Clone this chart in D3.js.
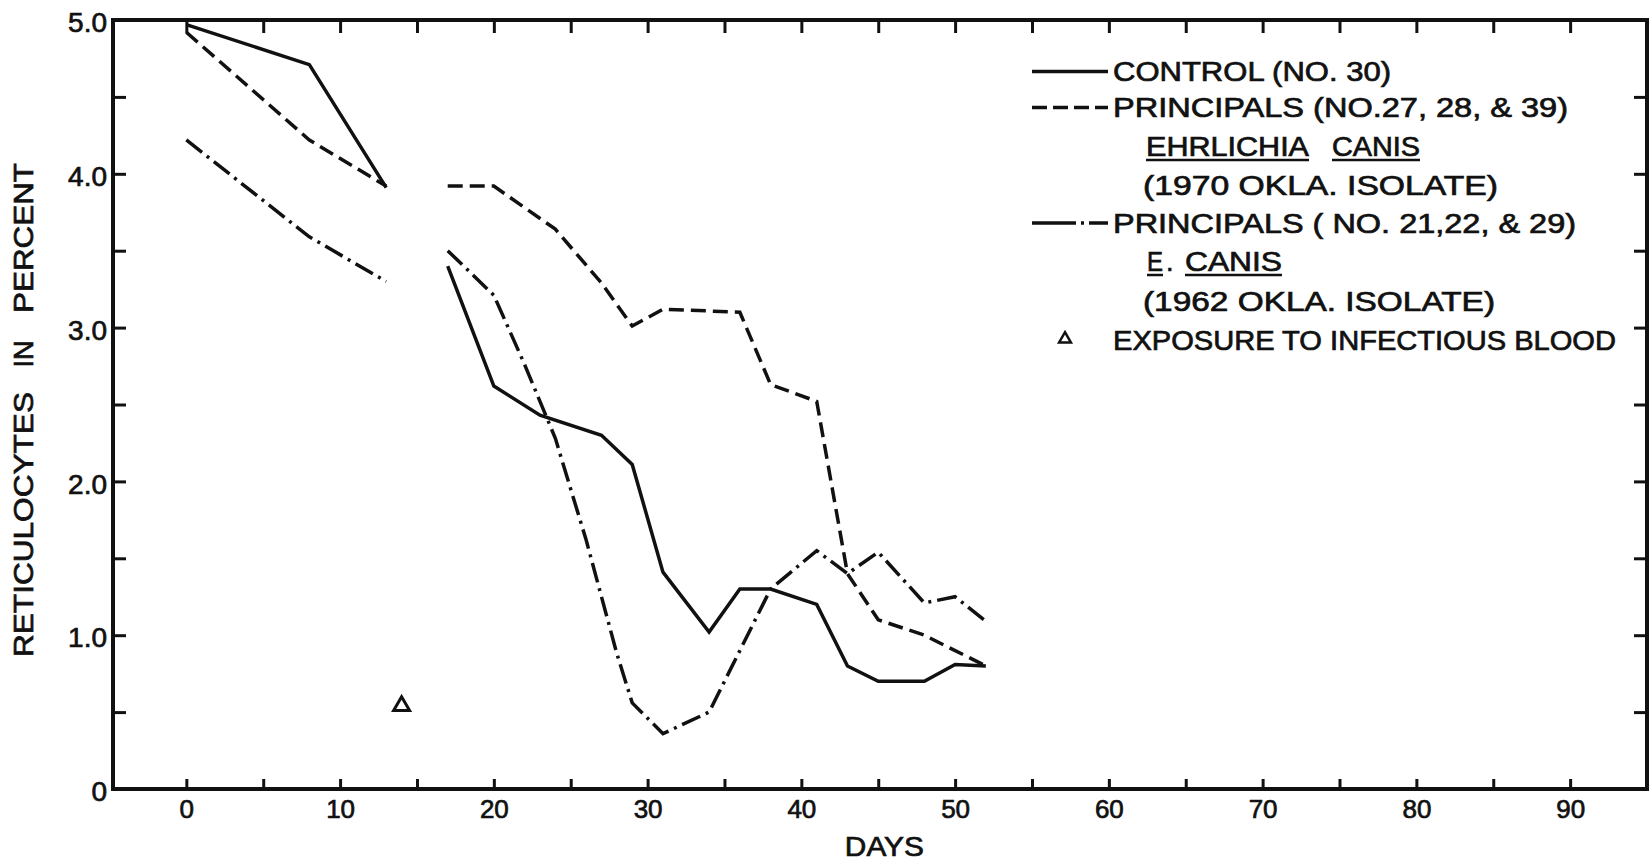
<!DOCTYPE html>
<html>
<head>
<meta charset="utf-8">
<script src="https://cdn.jsdelivr.net/npm/d3@7"></script>
<style>
  html, body { margin: 0; padding: 0; background: #fff; }
  svg { display: block; }
  text { font-family: "Liberation Sans", Arial, sans-serif; fill: #111; stroke: #111; stroke-width: 0.7px; }
</style>
</head>
<body>
<svg id="chart" width="1650" height="861"></svg>
<script>
// ---- data ----
const controlDays   = [0, 8, 13, 15, 17, 20, 23, 27, 29, 31, 34, 36, 38, 41, 43, 45, 48, 50, 52];
const controlValues = [4.97, 4.71, 3.91, null, 3.40, 2.62, 2.43, 2.30, 2.11, 1.41, 1.02, 1.30, 1.30, 1.20, 0.80, 0.70, 0.70, 0.81, 0.80];

const iso1970Days   = [0, 8, 13, 15, 17, 20, 24, 27, 29, 31, 36, 38, 41, 43, 45, 48, 52];
const iso1970Values = [4.92, 4.22, 3.92, null, 3.92, 3.92, 3.64, 3.29, 3.01, 3.12, 3.10, 2.63, 2.52, 1.40, 1.10, 1.00, 0.80];

const iso1962Days   = [0, 8, 13, 15, 17, 20, 22, 24, 26, 27, 28, 29, 31, 34, 38, 41, 43, 45, 48, 50, 52];
const iso1962Values = [4.22, 3.59, 3.30, null, 3.50, 3.21, 2.76, 2.28, 1.62, 1.25, 0.88, 0.56, 0.36, 0.50, 1.30, 1.55, 1.40, 1.54, 1.21, 1.25, 1.09];

const exposureDays   = [14];
const exposureValues = [0.54];

const xTickValues = [0, 5, 10, 15, 20, 25, 30, 35, 40, 45, 50, 55, 60, 65, 70, 75, 80, 85, 90];
const xTickLabels = ["0", "", "10", "", "20", "", "30", "", "40", "", "50", "", "60", "", "70", "", "80", "", "90"];
const yTickValues = [0, 0.5, 1, 1.5, 2, 2.5, 3, 3.5, 4, 4.5, 5];
const yTickLabels = ["0", "", "1.0", "", "2.0", "", "3.0", "", "4.0", "", "5.0"];

const xTitle = "DAYS";
const yTitleWords = ["RETICULOCYTES", "IN", "PERCENT"];

const legendControl = "CONTROL (NO. 30)";
const legend1970 = "PRINCIPALS (NO.27, 28, & 39)";
const legend1970Genus = "EHRLICHIA";
const legend1970Species = "CANIS";
const legend1970Isolate = "(1970 OKLA. ISOLATE)";
const legend1962 = "PRINCIPALS ( NO. 21,22, & 29)";
const legend1962Genus = "E";
const legend1962Species = "CANIS";
const legend1962Isolate = "(1962 OKLA. ISOLATE)";
const legendExposure = "EXPOSURE TO INFECTIOUS BLOOD";

// ---- layout ----
const svg = d3.select("#chart");
const L = 113, R = 1647, T = 20, B = 789;

const x = d3.scaleLinear().domain([-4.77, 95]).range([L, R]);
const y = d3.scaleLinear().domain([0, 5]).range([B, T]);

const ink = "#111";

// axes (ticks pointing inward)
const axBottom = svg.append("g").attr("transform", `translate(0,${B})`)
  .call(d3.axisBottom(x).tickValues(xTickValues).tickSizeInner(-10).tickSizeOuter(0)
    .tickPadding(11).tickFormat((d, i) => xTickLabels[i]));
const axTop = svg.append("g").attr("transform", `translate(0,${T})`)
  .call(d3.axisTop(x).tickValues(xTickValues).tickSizeInner(-13).tickSizeOuter(0).tickFormat(""));
const axLeft = svg.append("g").attr("transform", `translate(${L},0)`)
  .call(d3.axisLeft(y).tickValues(yTickValues).tickSizeInner(-13).tickSizeOuter(0)
    .tickPadding(6).tickFormat((d, i) => yTickLabels[i]));
const axRight = svg.append("g").attr("transform", `translate(${R},0)`)
  .call(d3.axisRight(y).tickValues(yTickValues).tickSizeInner(-13).tickSizeOuter(0).tickFormat(""));

[axBottom, axTop, axLeft, axRight].forEach(g => {
  g.select(".domain").remove();
  g.selectAll(".tick line").attr("stroke", ink).attr("stroke-width", 3);
  g.selectAll("text").attr("fill", ink).style("font-family", '"Liberation Sans", Arial, sans-serif');
});
axBottom.selectAll("text").style("font-size", "26px");
axLeft.selectAll("text").style("font-size", "28px").attr("dy", "0.42em");

// frame
svg.append("rect").attr("x", L).attr("y", T).attr("width", R - L).attr("height", B - T)
  .attr("fill", "none").attr("stroke", ink).attr("stroke-width", 4);

// axis titles
svg.append("text").attr("x", x(45.4)).attr("y", 856).attr("text-anchor", "middle")
  .style("font-size", "27px").attr("textLength", 79).attr("lengthAdjust", "spacingAndGlyphs")
  .text(xTitle);
// y title: three words placed along the left side (bottom to top)
const yWordSpans = [[392, 657], null, [163, 313]];
const yWordCentres = [null, 354, null];
yTitleWords.forEach((w, i) => {
  if (yWordSpans[i]) {
    const [a, b] = yWordSpans[i];
    svg.append("text").attr("transform", `translate(33,${b}) rotate(-90)`)
      .style("font-size", "27px")
      .attr("textLength", b - a).attr("lengthAdjust", "spacingAndGlyphs")
      .text(w);
  } else {
    svg.append("text").attr("transform", `translate(33,${yWordCentres[i]}) rotate(-90)`)
      .attr("text-anchor", "middle").style("font-size", "27px")
      .text(w);
  }
});

// series
const line = d3.line().defined(d => d[1] !== null).x(d => x(d[0])).y(d => y(d[1]));
function series(days, values, dash) {
  const pts = days.map((d, i) => [d, values[i]]);
  svg.append("path").datum(pts).attr("d", line)
    .attr("fill", "none").attr("stroke", ink).attr("stroke-width", 3.5)
    .attr("stroke-linejoin", "miter").attr("stroke-dasharray", dash);
}
const dashStyle = "15,7";
const dashDotStyle = "20,6,3,6";
series(controlDays, controlValues, null);
series(iso1970Days, iso1970Values, dashStyle);
series(iso1962Days, iso1962Values, dashDotStyle);

// exposure marker
svg.selectAll(".expo").data(exposureDays.map((d, i) => [d, exposureValues[i]])).enter()
  .append("path").attr("class", "expo")
  .attr("transform", d => `translate(${x(d[0])},${y(d[1])})`)
  .attr("d", d3.symbol(d3.symbolTriangle, 110))
  .attr("fill", "#fff").attr("stroke", ink).attr("stroke-width", 3);

// ---- legend ----
const fs = 27, capHalf = 9.6;
const lg = svg.append("g");
function ltext(str, x0, cy, width) {
  return lg.append("text").attr("x", x0).attr("y", cy + capHalf)
    .style("font-size", fs + "px").attr("textLength", width).attr("lengthAdjust", "spacingAndGlyphs")
    .text(str);
}
function underline(x0, x1, cy) {
  lg.append("line").attr("x1", x0).attr("x2", x1).attr("y1", cy + 14).attr("y2", cy + 14)
    .attr("stroke", ink).attr("stroke-width", 2.5);
}
function sample(cy, dash) {
  lg.append("line").attr("x1", 1032).attr("x2", 1108).attr("y1", cy).attr("y2", cy)
    .attr("stroke", ink).attr("stroke-width", 3.5).attr("stroke-dasharray", dash);
}
const rows = [71.5, 107.5, 146, 185, 223, 261, 301, 340];
sample(rows[0], null);
ltext(legendControl, 1113, rows[0], 278);
sample(rows[1], "15,6");
ltext(legend1970, 1113, rows[1], 455);
ltext(legend1970Genus, 1146, rows[2], 163); underline(1146, 1309, rows[2]);
ltext(legend1970Species, 1332, rows[2], 88); underline(1332, 1420, rows[2]);
ltext(legend1970Isolate, 1143, rows[3], 355);
sample(rows[4], "44,5,3,5,30");
ltext(legend1962, 1113, rows[4], 463);
ltext(legend1962Genus, 1147, rows[5], 16); underline(1147, 1163, rows[5]);
lg.append("text").attr("x", 1166).attr("y", rows[5] + capHalf).style("font-size", fs + "px").text(".");
ltext(legend1962Species, 1185, rows[5], 97); underline(1185, 1282, rows[5]);
ltext(legend1962Isolate, 1143, rows[6], 352);
lg.append("path").attr("transform", `translate(1065,${rows[7] - 1})`)
  .attr("d", d3.symbol(d3.symbolTriangle, 60))
  .attr("fill", "#fff").attr("stroke", ink).attr("stroke-width", 2.5);
ltext(legendExposure, 1113, rows[7], 503);
</script>
</body>
</html>
